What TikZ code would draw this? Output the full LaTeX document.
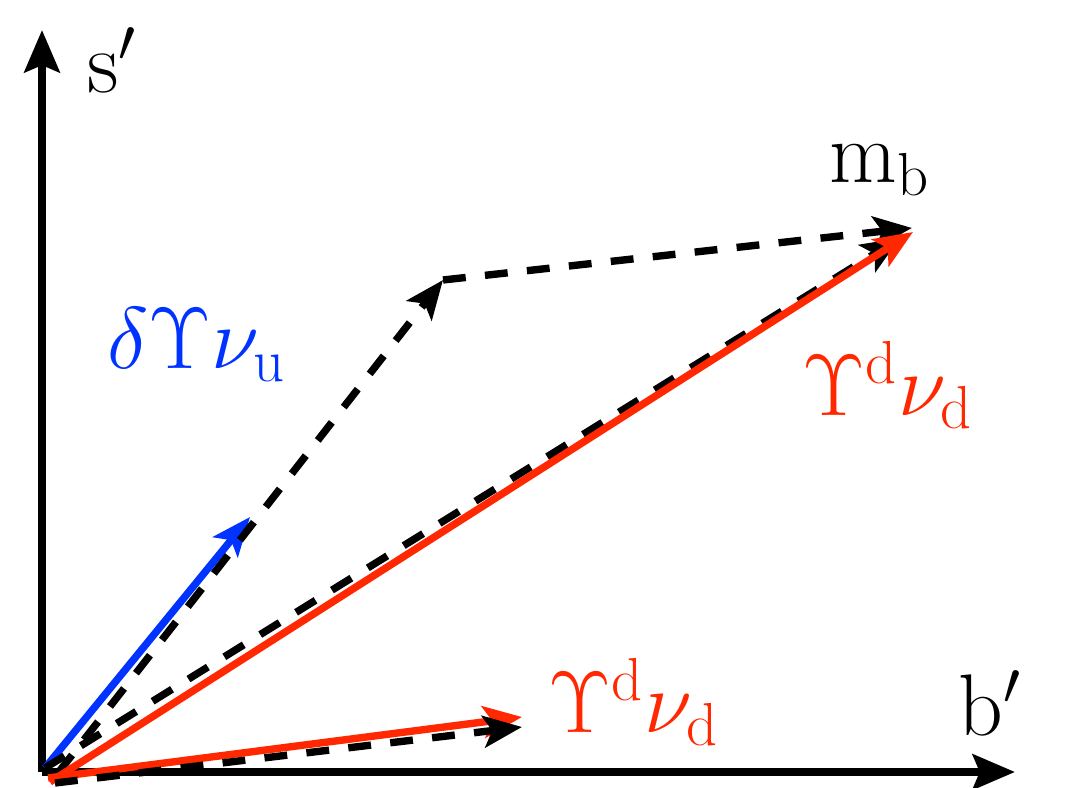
\documentclass[tikz,border=0pt]{standalone}
\usepackage{amsmath}
\definecolor{vecred}{RGB}{255,40,0}
\definecolor{vecblue}{RGB}{0,51,255}
\usetikzlibrary{arrows.meta}

\begin{document}
\begin{tikzpicture}[x=0.01cm, y=-0.01cm,
  axis/.style={line width=2.3pt, -{Stealth[length=12pt, width=10pt, inset=2pt]}},
  vec/.style={line width=2.1pt, -{Stealth[length=11pt, width=9pt, inset=2.5pt]}},
  dvec/.style={vec, black, dash pattern=on 6.5pt off 5.5pt},
  lab/.style={font=\fontsize{27}{31}\selectfont, inner sep=0pt}]
  \useasboundingbox (0,0) rectangle (1069,788);

  % Points
  \coordinate (origin) at (42,772);
  \coordinate (stop) at (42,30);
  \coordinate (btop) at (1015,772);
  \coordinate (oblue) at (45,768);
  \coordinate (blue) at (250,517);
  \coordinate (odash) at (58,773);
  \coordinate (corner) at (443,280);
  \coordinate (mb) at (912,228);
  \coordinate (olong) at (45,768);
  \coordinate (long) at (900,238);
  \coordinate (ored) at (50,782);
  \coordinate (red) at (913,232);
  \coordinate (oshort) at (48,778);
  \coordinate (short) at (522,717);
  \coordinate (odshort) at (55,783);
  \coordinate (dshort) at (522,727);

  % Axes
  \draw[axis] (origin) -- (stop);
  \draw[axis] (origin) -- (btop);

  % Vectors
  \draw[vec, vecblue] (oblue) -- (blue);
  \draw[dvec] (odash) -- (corner);
  \draw[dvec] (corner) -- (mb);
  \draw[dvec] (olong) -- (long);
  \draw[vec, vecred] (ored) -- (red);
  \draw[vec, vecred] (oshort) -- (short);
  \draw[dvec] (odshort) -- (dshort);

  % Labels
  \node[lab] (slab) at (112,60) {$\mathrm{s}'$};
  \node[lab] (blab) at (990,703) {$\mathrm{b}'$};
  \node[lab] (mlab) at (880,170) {$\mathrm{m}_\mathrm{b}$};
  \node[lab, text=vecblue] (ulab) at (197,345) {$\delta\Upsilon\nu_\mathrm{u}$};
  \node[lab, text=vecred] (dlab) at (888,385) {$\Upsilon^\mathrm{d}\nu_\mathrm{d}$};
  \node[lab, text=vecred] (dlab2) at (634,702) {$\Upsilon^\mathrm{d}\nu_\mathrm{d}$};
\end{tikzpicture}
\end{document}
